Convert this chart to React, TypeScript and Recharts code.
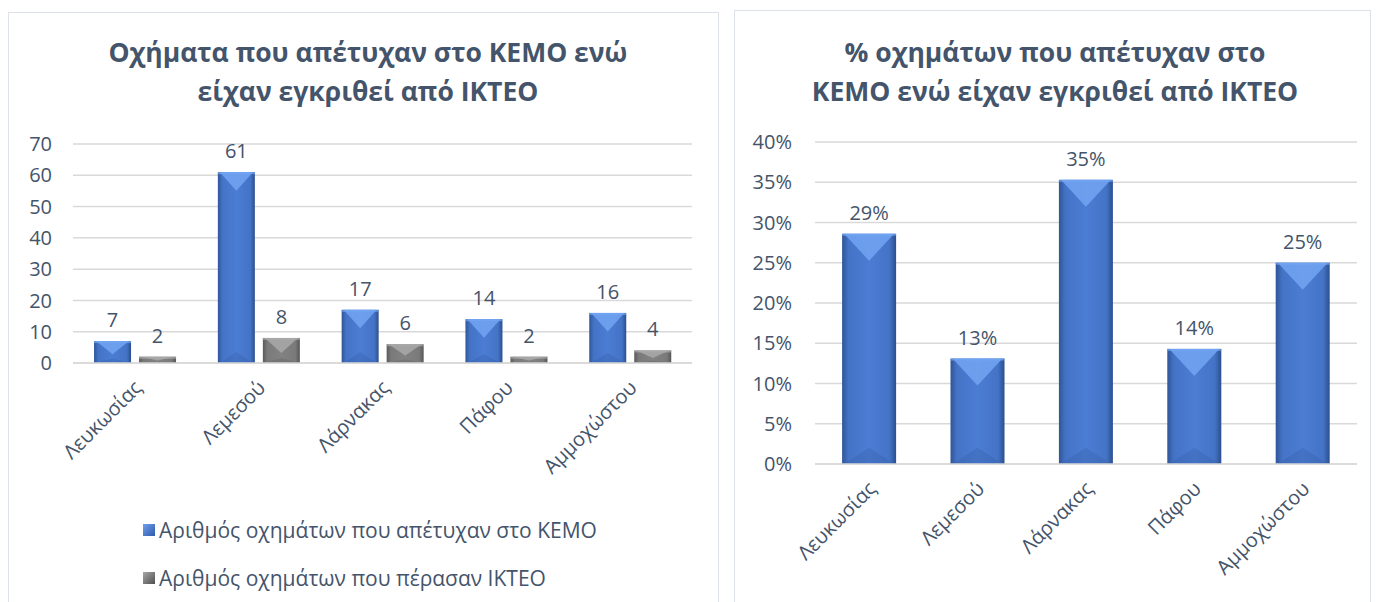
import React from 'react';
import { BarChart, Bar, XAxis, YAxis, CartesianGrid, LabelList, Legend } from 'recharts';

const categories = ['Λευκωσίας', 'Λεμεσού', 'Λάρνακας', 'Πάφου', 'Αμμοχώστου'];
const failedKemo = [7, 61, 17, 14, 16];
const passedIkteo = [2, 8, 6, 2, 4];
const failedPct = [0.286, 0.131, 0.353, 0.143, 0.25];
const countTicks = [0, 10, 20, 30, 40, 50, 60, 70];
const pctTicks = [0, 0.05, 0.1, 0.15, 0.2, 0.25, 0.3, 0.35, 0.4];

const leftTitle = ['Οχήματα που απέτυχαν στο ΚΕΜΟ ενώ', 'είχαν εγκριθεί από ΙΚΤΕΟ'];
const rightTitle = ['% οχημάτων που απέτυχαν στο', 'ΚΕΜΟ ενώ είχαν εγκριθεί από ΙΚΤΕΟ'];
const seriesNames = ['Αριθμός οχημάτων που απέτυχαν στο ΚΕΜΟ', 'Αριθμός οχημάτων που πέρασαν ΙΚΤΕΟ'];

const countData = categories.map((c, i) => ({ name: c, failed: failedKemo[i], passed: passedIkteo[i] }));
const pctData = categories.map((c, i) => ({ name: c, pct: failedPct[i] }));

const FONT = "'Open Sans', 'Noto Sans', sans-serif";
const TEXT = '#44546A';
const GRID = '#D9D9D9';

const PAL: Record<string, { body: string; top: string; bottom: string }> = {
  blue: { body: 'url(#blueBody)', top: '#72A5F2', bottom: '#2E5496' },
  gray: { body: 'url(#grayBody)', top: '#A9A9A9', bottom: '#555555' },
};

const BevelBar = (kind: string) => (props: any) => {
  const { x, y, width, height } = props;
  if (!height || height <= 0) return null;
  const p = PAL[kind];
  const d = Math.min(width * 0.5, height * 0.6);
  const db = Math.min(width * 0.3, height * 0.2);
  return (
    <g>
      <rect x={x} y={y} width={width} height={height} fill={p.body} />
      <polygon
        points={`${x + 2},${y} ${x + width - 2},${y} ${x + width / 2},${y + d}`}
        fill={p.top}
        opacity={0.85}
      />
      <rect x={x} y={y} width={width} height={Math.min(2, height)} fill={p.top} opacity={0.7} />
      <polygon
        points={`${x + 2},${y + height} ${x + width - 2},${y + height} ${x + width / 2},${y + height - db}`}
        fill={p.bottom}
        opacity={0.25}
      />
    </g>
  );
};

const RotTick = (props: any) => {
  const { x, y, payload } = props;
  const ax = x + 8;
  const ay = y + 26;
  return (
    <text
      x={ax}
      y={ay}
      transform={`rotate(-45, ${ax}, ${ay})`}
      textAnchor="end"
      fill={TEXT}
      fontSize={20}
      fontFamily={FONT}
    >
      {payload.value}
    </text>
  );
};

const LegendContent = () => (
  <div style={{ fontFamily: FONT, fontSize: 21, color: TEXT }}>
    {seriesNames.map((n, i) => (
      <div key={n} style={{ display: 'flex', alignItems: 'center', height: 48 }}>
        <span
          style={{
            display: 'inline-block',
            width: 12,
            height: 12,
            marginRight: 4,
            background: i === 0 ? 'linear-gradient(135deg,#6FA0EE,#2F5AA8)' : 'linear-gradient(135deg,#A8A8A8,#4F4F4F)',
          }}
        />
        {n}
      </div>
    ))}
  </div>
);

const Title = ({ lines, cx }: { lines: string[]; cx: number }) => (
  <div
    style={{
      position: 'absolute',
      left: cx - 330,
      width: 660,
      top: 33,
      textAlign: 'center',
      fontFamily: FONT,
      fontWeight: 700,
      fontSize: 26.5,
      lineHeight: '39px',
      color: TEXT,
    }}
  >
    {lines.map((l) => (
      <div key={l}>{l}</div>
    ))}
  </div>
);

export default function App() {
  return (
    <div style={{ position: 'absolute', left: 0, top: 0, width: 1378, height: 602, background: '#fff', overflow: 'hidden' }}>
      <svg width={0} height={0} style={{ position: 'absolute' }}>
        <defs>
          <linearGradient id="blueBody" x1="0" y1="0" x2="1" y2="0">
            <stop offset="0%" stopColor="#2F5597" />
            <stop offset="12%" stopColor="#4473C6" />
            <stop offset="50%" stopColor="#4B7DD4" />
            <stop offset="88%" stopColor="#4473C6" />
            <stop offset="100%" stopColor="#2B4F8E" />
          </linearGradient>
          <linearGradient id="grayBody" x1="0" y1="0" x2="1" y2="0">
            <stop offset="0%" stopColor="#5A5A5A" />
            <stop offset="12%" stopColor="#7A7A7A" />
            <stop offset="50%" stopColor="#828282" />
            <stop offset="88%" stopColor="#7A7A7A" />
            <stop offset="100%" stopColor="#555555" />
          </linearGradient>
        </defs>
      </svg>

      {/* Left panel */}
      <div style={{ position: 'absolute', left: 8, top: 12, width: 711, height: 620, border: '1px solid #DDE2E8', boxSizing: 'border-box' }} />
      <Title lines={leftTitle} cx={368} />
      <div style={{ position: 'absolute', left: 0, top: 0 }}>
        <BarChart
          width={720}
          height={602}
          data={countData}
          margin={{ top: 144, right: 28, bottom: 139, left: 0 }}
          barCategoryGap="17%"
          barGap={8}
        >
          <CartesianGrid vertical={false} stroke={GRID} strokeWidth={1.5} />
          <XAxis
            dataKey="name"
            height={100}
            tick={<RotTick />}
            tickLine={false}
            tickSize={0}
            tickMargin={0}
            axisLine={{ stroke: GRID, strokeWidth: 1.5 }}
            interval={0}
          />
          <YAxis
            width={73}
            domain={[0, 70]}
            ticks={countTicks}
            tickLine={false}
            tickSize={0}
            tickMargin={21}
            axisLine={false}
            tick={{ fill: TEXT, fontSize: 20, fontFamily: FONT }}
          />
          <Legend
            layout="horizontal"
            verticalAlign="middle"
            align="center"
            wrapperStyle={{ left: 143, top: 506, width: 540 }}
            content={<LegendContent />}
          />
          <Bar dataKey="failed" name={seriesNames[0]} fill="#4472C4" shape={BevelBar('blue')} isAnimationActive={false}>
            <LabelList dataKey="failed" position="top" offset={14} fill={TEXT} fontSize={20} fontFamily={FONT} />
          </Bar>
          <Bar dataKey="passed" name={seriesNames[1]} fill="#7F7F7F" shape={BevelBar('gray')} isAnimationActive={false}>
            <LabelList dataKey="passed" position="top" offset={14} fill={TEXT} fontSize={20} fontFamily={FONT} />
          </Bar>
        </BarChart>
      </div>

      {/* Right panel */}
      <div style={{ position: 'absolute', left: 734, top: 10, width: 637, height: 620, border: '1px solid #DDE2E8', boxSizing: 'border-box' }} />
      <Title lines={rightTitle} cx={1055} />
      <div style={{ position: 'absolute', left: 722, top: 0 }}>
        <BarChart
          width={656}
          height={602}
          data={pctData}
          margin={{ top: 142, right: 21, bottom: 38, left: 0 }}
          barCategoryGap="25%"
        >
          <CartesianGrid vertical={false} stroke={GRID} strokeWidth={1.5} />
          <XAxis
            dataKey="name"
            height={100}
            tick={<RotTick />}
            tickLine={false}
            tickSize={0}
            tickMargin={0}
            axisLine={{ stroke: GRID, strokeWidth: 1.5 }}
            interval={0}
          />
          <YAxis
            width={93}
            domain={[0, 0.4]}
            ticks={pctTicks}
            tickLine={false}
            tickSize={0}
            tickMargin={23}
            axisLine={false}
            tickFormatter={(v: number) => `${Math.round(v * 100)}%`}
            tick={{ fill: TEXT, fontSize: 20, fontFamily: FONT }}
          />
          <Bar dataKey="pct" fill="#4472C4" shape={BevelBar('blue')} isAnimationActive={false}>
            <LabelList
              dataKey="pct"
              position="top"
              offset={14}
              fill={TEXT}
              fontSize={20}
              fontFamily={FONT}
              formatter={(v: any) => `${Math.round(Number(v) * 100)}%`}
            />
          </Bar>
        </BarChart>
      </div>
    </div>
  );
}
